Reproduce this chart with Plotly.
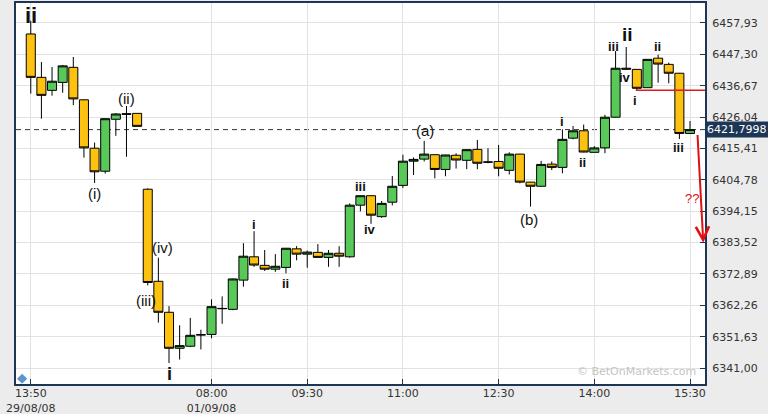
import plotly.graph_objects as go
import pandas as pd

# ---- data (10-minute FTSE candles) ----
open_ = [6454.2, 6439.5, 6435.1, 6437.8, 6442.9, 6431.9, 6415.5, 6407.7, 6425.3, 6427.2,
         6427.3, 6401.6, 6370.4, 6359.9, 6347.7, 6348.4, 6352.2, 6352.4, 6361.1, 6360.9,
         6370.8, 6378.7, 6375.8, 6374.5, 6375.1, 6381.4, 6379.6, 6380.2, 6378.5, 6379.9,
         6378.7, 6396.2, 6399.4, 6392.3, 6397.2, 6402.9, 6411.1, 6411.8, 6413.3, 6408.3,
         6413.1, 6411.4, 6415.1, 6410.8, 6411.0, 6408.0, 6413.5, 6404.0, 6402.6, 6410.1,
         6409.0, 6418.9, 6421.4, 6414.1, 6415.6, 6426.0, 6442.6, 6442.2, 6436.0, 6446.0,
         6443.9, 6440.9, 6420.5]
high = [6458.7, 6444.7, 6443.0, 6443.7, 6446.4, 6432.0, 6417.4, 6425.6, 6427.4, 6429.8,
        6427.3, 6401.9, 6378.4, 6362.0, 6355.5, 6358.0, 6354.0, 6364.3, 6365.3, 6371.3,
        6383.3, 6387.4, 6381.0, 6379.6, 6381.7, 6382.3, 6380.8, 6383.0, 6381.0, 6382.3,
        6396.8, 6399.5, 6399.5, 6397.6, 6406.1, 6413.3, 6412.4, 6418.0, 6413.4, 6413.3,
        6413.8, 6415.1, 6418.3, 6415.5, 6416.6, 6414.1, 6413.6, 6404.1, 6411.2, 6411.0,
        6421.9, 6423.0, 6423.5, 6416.2, 6426.8, 6448.4, 6449.8, 6442.3, 6445.7, 6447.2,
        6444.5, 6441.0, 6424.7]
low = [6434.0, 6425.5, 6433.3, 6434.3, 6430.1, 6412.3, 6403.7, 6406.9, 6419.7, 6412.6,
       6422.9, 6369.0, 6356.4, 6342.7, 6343.9, 6348.1, 6347.3, 6351.1, 6356.0, 6360.6,
       6368.6, 6375.3, 6373.9, 6373.6, 6373.1, 6377.5, 6375.0, 6378.4, 6375.3, 6375.3,
       6378.4, 6394.1, 6389.9, 6391.9, 6396.1, 6402.0, 6406.4, 6411.0, 6405.3, 6406.0,
       6408.6, 6408.4, 6408.4, 6410.4, 6406.0, 6406.6, 6403.6, 6395.7, 6402.5, 6408.1,
       6407.0, 6418.5, 6414.1, 6414.0, 6413.8, 6425.9, 6442.0, 6435.0, 6435.9, 6437.7,
       6437.5, 6418.6, 6420.4]
close = [6439.5, 6433.4, 6438.2, 6443.4, 6432.2, 6415.6, 6407.5, 6425.5, 6427.1, 6427.0,
         6422.9, 6370.0, 6359.9, 6347.7, 6348.6, 6352.1, 6352.3, 6361.8, 6361.2, 6371.2,
         6378.9, 6375.9, 6374.5, 6375.5, 6381.6, 6379.6, 6380.3, 6378.5, 6379.9, 6378.9,
         6396.2, 6399.4, 6392.8, 6396.8, 6402.6, 6411.1, 6411.7, 6413.5, 6408.3, 6413.2,
         6411.5, 6415.0, 6410.4, 6410.8, 6408.7, 6413.5, 6404.0, 6402.6, 6410.0, 6409.0,
         6418.5, 6421.4, 6414.2, 6415.6, 6426.0, 6442.6, 6442.3, 6435.8, 6445.6, 6444.0,
         6440.9, 6420.5, 6421.8]

# trading sessions (category labels)
fri = pd.date_range("2008-08-29 13:50", "2008-08-29 16:30", freq="10min")
mon = pd.date_range("2008-09-01 08:00", "2008-09-01 15:30", freq="10min")
times = [t.strftime("%d/%m %H:%M") for t in list(fri) + list(mon)]

x_tick_times = ["29/08 13:50", "01/09 08:00", "01/09 09:30", "01/09 11:00",
                "01/09 12:30", "01/09 14:00", "01/09 15:30"]
x_tick_text = ["13:50<br>29/08/08", "08:00<br>01/09/08", "09:30", "11:00",
               "12:30", "14:00", "15:30"]
y_tick_vals = [6341.00, 6351.63, 6362.26, 6372.89, 6383.52, 6394.15,
               6404.78, 6415.41, 6426.04, 6436.67, 6447.30, 6457.93]
last_price = 6421.7998
stop_level = 6435.1

# wave labels: (text, candle position, price, size, bold)
wave_labels = [
    ("ii", 0.0, 6460.3, 22, True),
    ("(ii)", 9.0, 6432.2, 15, False),
    ("(i)", 6.0, 6400.0, 15, False),
    ("(iv)", 12.4, 6381.7, 15, False),
    ("(iii)", 10.8, 6364.0, 15, False),
    ("i", 13.0, 6339.0, 18, True),
    ("i", 21.0, 6389.6, 13, True),
    ("ii", 24.0, 6369.5, 13, True),
    ("iii", 31.0, 6402.4, 13, True),
    ("iv", 31.9, 6388.1, 13, True),
    ("(a)", 37.1, 6421.4, 15, False),
    ("(b)", 46.9, 6391.5, 15, False),
    ("i", 50.0, 6424.4, 13, True),
    ("ii", 51.9, 6410.8, 13, True),
    ("iii", 54.8, 6450.1, 13, True),
    ("ii", 56.1, 6453.9, 19, True),
    ("iv", 55.9, 6439.3, 13, True),
    ("i", 56.8, 6431.7, 13, True),
    ("ii", 58.9, 6450.0, 13, True),
    ("iii", 60.9, 6415.7, 13, True),
]

xs = list(range(len(open_)))
pos = {t: i for i, t in enumerate(times)}
tickvals = [pos[t] for t in x_tick_times]

NAVY = "#1d3656"
fig = go.Figure()
fig.add_trace(go.Candlestick(
    x=xs, open=open_, high=high, low=low, close=close,
    increasing=dict(fillcolor="#58c858", line=dict(color="#000000", width=1)),
    decreasing=dict(fillcolor="#fcc20f", line=dict(color="#000000", width=1)),
    whiskerwidth=0, hoverinfo="skip", showlegend=False,
))

annotations = []
for txt, xp, yp, sz, bold in wave_labels:
    annotations.append(dict(
        x=xp, y=yp, xref="x", yref="y", showarrow=False,
        text=f"<b>{txt}</b>" if bold else txt,
        font=dict(family="Liberation Sans", size=sz, color="#111111"),
        xanchor="center", yanchor="middle"))

# projected move
annotations.append(dict(x=63.25, y=6383.5, ax=62.7, ay=6420.5, xref="x", yref="y",
                        axref="x", ayref="y", showarrow=True, arrowhead=5,
                        arrowsize=1.3, arrowwidth=2, arrowcolor="#e01010", text=""))
annotations.append(dict(x=62.2, y=6398.5, xref="x", yref="y", showarrow=False,
                        text="??", font=dict(family="Liberation Sans", size=13, color="#e01010")))
# last-price box
annotations.append(dict(x=1.0, y=last_price, xref="paper", yref="y", showarrow=False,
                        xanchor="left", yanchor="middle",
                        text=f"{last_price:.4f}".replace(".", ","),
                        bgcolor=NAVY, borderpad=1,
                        font=dict(family="DejaVu Sans", size=11, color="#ffffff")))
# watermark
annotations.append(dict(x=0.99, y=0.032, xref="paper", yref="paper", showarrow=False,
                        xanchor="right", yanchor="middle", text="© BetOnMarkets.com",
                        font=dict(family="DejaVu Sans", size=11, color="#c4c4c4")))
annotations.append(dict(x=0.009, y=0.018, xref="paper", yref="paper", showarrow=False,
                        xanchor="center", yanchor="middle", text="◆",
                        font=dict(family="DejaVu Sans", size=13, color="#5d93cf")))

shapes = [
    dict(type="line", xref="paper", yref="y", x0=0, x1=1, y0=last_price, y1=last_price,
         line=dict(color="#333333", width=1, dash="5px,4px"), layer="below"),
    dict(type="line", xref="x", yref="y", x0=56.9, x1=63.41, y0=stop_level, y1=stop_level,
         line=dict(color="#e01a1a", width=1.5), layer="above"),
]

fig.update_layout(
    width=768, height=414,
    margin=dict(l=16, r=63, t=3, b=30, autoexpand=False),
    paper_bgcolor="#ececec", plot_bgcolor="#ffffff",
    boxgap=0.15, boxgroupgap=0,
    annotations=annotations, shapes=shapes,
    font=dict(family="DejaVu Sans", size=11, color="#333333"),
    xaxis=dict(range=[-1.39, 63.41], tickvals=tickvals, ticktext=x_tick_text,
               automargin=False, ticklabelstandoff=-2,
               showgrid=True, gridcolor="#e2e2e2", gridwidth=1, zeroline=False,
               showline=True, mirror=True, linecolor=NAVY, linewidth=2,
               ticks="inside", ticklen=5, tickcolor=NAVY,
               rangeslider=dict(visible=False), fixedrange=True,
               tickfont=dict(family="DejaVu Sans", size=11, color="#333333")),
    yaxis=dict(range=[6335.6, 6464.7], side="right", tickvals=y_tick_vals,
               ticktext=[f"{v:.2f}".replace(".", ",") for v in y_tick_vals],
               automargin=False,
               showgrid=True, gridcolor="#e2e2e2", gridwidth=1, zeroline=False,
               showline=True, mirror=True, linecolor=NAVY, linewidth=2,
               ticks="inside", ticklen=5, tickcolor=NAVY, ticklabelstandoff=3,
               tickfont=dict(family="DejaVu Sans", size=11, color="#333333")),
)

fig.write_html("out.html", config={"displayModeBar": False},
               post_script="document.body.style.margin='0';document.body.style.overflow='hidden';")
